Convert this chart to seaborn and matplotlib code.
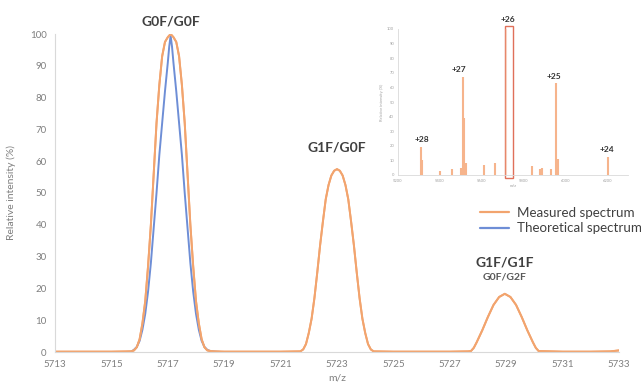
import matplotlib
matplotlib.use("Agg")
import matplotlib.pyplot as plt
import seaborn as sns
import pandas as pd
from matplotlib.patches import Rectangle
from matplotlib.lines import Line2D

# ---------------- data ----------------
measured_mz = [5713.0, 5714.0, 5715.0, 5715.7, 5715.8, 5715.9, 5716.0, 5716.1, 5716.2, 5716.3,
               5716.4, 5716.5, 5716.6, 5716.7, 5716.8, 5716.9, 5717.0, 5717.1, 5717.2, 5717.3,
               5717.4, 5717.5, 5717.6, 5717.7, 5717.8, 5717.9, 5718.0, 5718.1, 5718.2, 5718.3,
               5718.4, 5718.6, 5719.0, 5720.0, 5721.0, 5721.7, 5721.8, 5721.9, 5722.0, 5722.1,
               5722.2, 5722.3, 5722.4, 5722.5, 5722.6, 5722.7, 5722.8, 5722.9, 5723.0, 5723.1,
               5723.2, 5723.3, 5723.4, 5723.5, 5723.6, 5723.7, 5723.8, 5723.9, 5724.0, 5724.1,
               5724.2, 5724.3, 5725.0, 5726.0, 5727.0, 5727.65, 5727.75, 5727.85, 5727.95, 5728.15,
               5728.35, 5728.55, 5728.75, 5728.95, 5729.15, 5729.35, 5729.55, 5729.75, 5729.95, 5730.05,
               5730.15, 5731.0, 5732.0, 5732.7, 5733.0]
measured_int = [0.1, 0.1, 0.1, 0.2, 0.5, 1.5, 4.0, 9.0, 16.0, 27.0,
                40.0, 56.0, 72.0, 84.0, 93.0, 97.5, 99.0, 100.0, 99.0, 97.5,
                93.0, 84.0, 72.0, 56.0, 40.0, 27.0, 16.0, 9.0, 4.0, 1.5,
                0.5, 0.2, 0.1, 0.1, 0.1, 0.2, 0.8, 2.5, 6.0, 10.5,
                17.0, 25.0, 33.5, 41.0, 48.0, 52.5, 55.5, 57.0, 57.5, 57.0,
                55.5, 52.5, 48.0, 41.0, 33.5, 25.0, 17.0, 10.5, 6.0, 2.5,
                0.8, 0.2, 0.1, 0.1, 0.1, 0.2, 0.3, 1.3, 3.0, 6.8,
                11.0, 14.8, 17.3, 18.3, 17.3, 14.8, 11.0, 6.8, 3.0, 1.3,
                0.3, 0.1, 0.1, 0.2, 0.5]

theoretical_mz = [5715.5, 5715.7, 5715.8, 5715.9, 5716.0, 5716.1, 5716.2, 5716.3, 5716.4, 5716.5,
                  5716.6, 5716.7, 5716.8, 5716.9, 5717.0, 5717.05, 5717.1, 5717.15, 5717.2, 5717.3,
                  5717.4, 5717.5, 5717.6, 5717.7, 5717.8, 5717.9, 5718.0, 5718.1, 5718.2, 5718.3,
                  5718.4, 5718.5, 5718.7, 5718.9]
theoretical_int = [0.0, 0.1, 0.7, 1.6, 3.5, 7.0, 12.0, 19.0, 28.0, 39.0,
                   50.0, 62.0, 72.0, 82.0, 91.0, 96.0, 99.5, 96.0, 91.0, 82.0,
                   72.0, 62.0, 50.0, 39.0, 28.0, 19.0, 12.0, 7.0, 3.5, 1.6,
                   0.7, 0.3, 0.1, 0.0]

series_names = ["Measured spectrum", "Theoretical spectrum"]
series_colors = ["#F2A46E", "#6E8ED6"]

peak_labels = ["G0F/G0F", "G1F/G0F", "G1F/G1F"]
peak_label_mz = [5717.1, 5723.0, 5728.95]
peak_label_y = [103.8, 64.2, 28.3]
sub_label = "G0F/G2F"
sub_label_y = 23.6

x_ticks = [5713, 5715, 5717, 5719, 5721, 5723, 5725, 5727, 5729, 5731, 5733]
y_ticks = [0, 10, 20, 30, 40, 50, 60, 70, 80, 90, 100]

# inset: full charge-state envelope (stick spectrum)
inset_mz = [5311, 5316, 5400, 5457, 5500, 5511, 5517, 5523, 5611, 5663,
            5717, 5839, 5878, 5891, 5934, 5955, 5966, 6205]
inset_int = [19.4, 10.0, 3.0, 4.0, 5.0, 67.3, 39.0, 8.0, 7.0, 8.0,
             100.0, 6.0, 4.0, 5.0, 4.0, 62.8, 11.0, 12.5]
charge_labels = ["+28", "+27", "+26", "+25", "+24"]
charge_label_mz = [5313, 5490, 5727, 5947, 6197]
charge_label_y = [22, 70, 104, 65, 15]
inset_x_ticks = [5200, 5400, 5600, 5800, 6000, 6200]
inset_y_ticks = [0, 10, 20, 30, 40, 50, 60, 70, 80, 90, 100]
highlight_mz = (5713, 5750)

# ---------------- styling ----------------
sns.set_theme(style="white")
plt.rcParams["font.family"] = ["Lato", "DejaVu Sans"]

GRAY_TXT = "#7f7f7f"
AXIS_GRAY = "#d9d9d9"
DARK = "#404040"

fig = plt.figure(figsize=(6.41, 3.90), dpi=100)
ax = fig.add_axes([55 / 641, 1 - 352 / 390, 564 / 641, 318 / 390])

df = pd.concat([
    pd.DataFrame({"m/z": measured_mz, "int": measured_int, "series": series_names[0]}),
    pd.DataFrame({"m/z": theoretical_mz, "int": theoretical_int, "series": series_names[1]}),
])
sns.lineplot(data=df, x="m/z", y="int", hue="series", hue_order=series_names[::-1],
             palette=dict(zip(series_names, series_colors)), estimator=None, sort=False,
             linewidth=1.4, ax=ax, legend=False)
# redraw measured on top like the reference
sns.lineplot(x=measured_mz, y=measured_int, color=series_colors[0], linewidth=1.4,
             estimator=None, sort=False, ax=ax)

ax.set_xlim(5713, 5733)
ax.set_ylim(0, 100)
ax.set_xticks(x_ticks)
ax.set_yticks(y_ticks)
ax.tick_params(axis="both", labelsize=7, colors=GRAY_TXT, length=3, width=0.6,
               direction="out", color=AXIS_GRAY, pad=3)
for s in ["top", "right"]:
    ax.spines[s].set_visible(False)
for s in ["left", "bottom"]:
    ax.spines[s].set_color(AXIS_GRAY)
    ax.spines[s].set_linewidth(0.8)
ax.set_xlabel("m/z", fontsize=7.5, color=GRAY_TXT, labelpad=3)
ax.set_ylabel("Relative intensity (%)", fontsize=7.5, color=GRAY_TXT, labelpad=10)

for lab, x, y in zip(peak_labels, peak_label_mz, peak_label_y):
    ax.text(x, y, lab, ha="center", va="center", fontsize=10, fontweight="bold",
            color=DARK, clip_on=False)
ax.text(peak_label_mz[2], sub_label_y, sub_label, ha="center", va="center", fontsize=7.5,
        fontweight="bold", color="#595959")

# legend
handles = [Line2D([0], [0], color=c, lw=1.6) for c in series_colors]
fig.legend(handles, series_names, loc="upper left", bbox_to_anchor=(480 / 641, 1 - 207 / 390),
           frameon=False, fontsize=9.6, handlelength=2.2, handletextpad=0.6,
           labelspacing=0.25, borderpad=0, borderaxespad=0, labelcolor=DARK)

# ---------------- inset ----------------
iax = fig.add_axes([398 / 641, 1 - 175 / 390, 230 / 641, 146 / 390])
iax.set_facecolor("none")
alphas = [0.35 if m == 5717 else 1.0 for m in inset_mz]
for m, h, a in zip(inset_mz, inset_int, alphas):
    iax.vlines(m, 0, h, color="#F6B48C", lw=1.5, alpha=a)
iax.set_xlim(5200, 6300)
iax.set_ylim(0, 100)
iax.set_xticks(inset_x_ticks)
iax.set_yticks(inset_y_ticks)
iax.tick_params(axis="both", labelsize=3, colors="#a0a0a0", length=1.2, width=0.4,
                color=AXIS_GRAY, pad=1.5)
for s in ["top", "right"]:
    iax.spines[s].set_visible(False)
for s in ["left", "bottom"]:
    iax.spines[s].set_color(AXIS_GRAY)
    iax.spines[s].set_linewidth(0.6)
iax.set_xlabel("m/z", fontsize=3, color="#a0a0a0", labelpad=1)
iax.set_ylabel("Relative intensity (%)", fontsize=3, color="#a0a0a0", labelpad=2)
iax.add_patch(Rectangle((highlight_mz[0], -2), highlight_mz[1] - highlight_mz[0], 104,
                        fill=False, edgecolor="#E0705A", lw=1.0, clip_on=False))
for lab, x, y in zip(charge_labels, charge_label_mz, charge_label_y):
    iax.text(x, y, lab, ha="center", va="bottom", fontsize=6, fontweight="bold",
             color="#333333", clip_on=False)

fig.savefig("out.png", dpi=100)
